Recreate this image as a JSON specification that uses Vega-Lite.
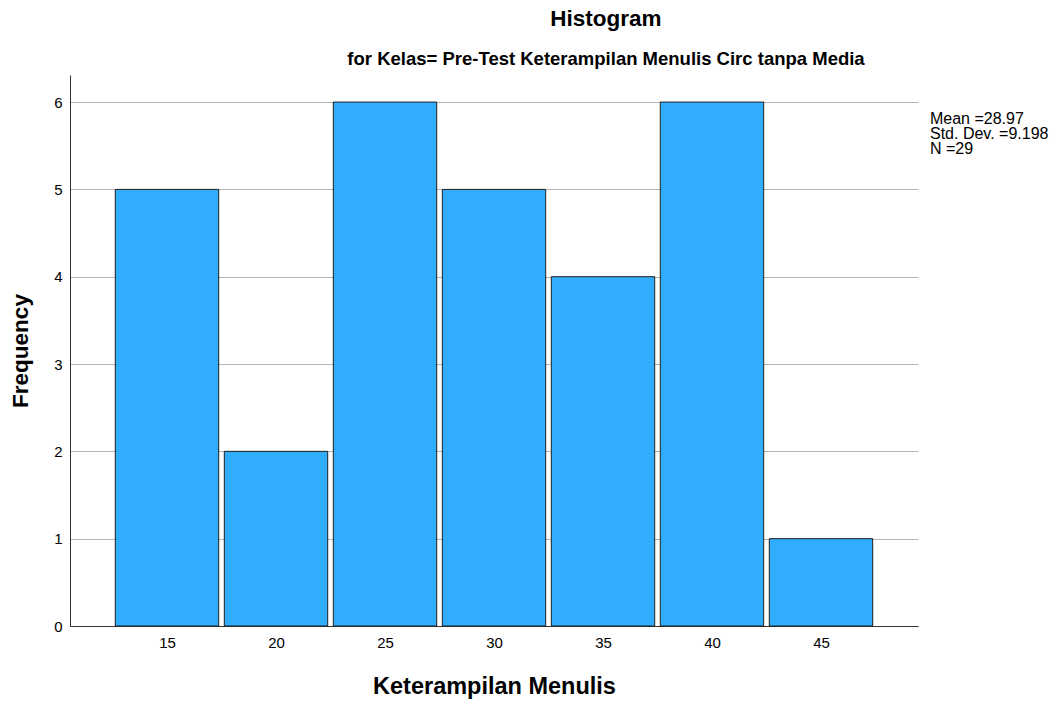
{
  "$schema": "https://vega.github.io/schema/vega-lite/v6.json",
  "width": 848,
  "height": 551,
  "autosize": {"type": "none"},
  "padding": {"left": 70, "top": 75, "right": 136, "bottom": 78},
  "background": "white",
  "config": {
    "view": {"stroke": null},
    "font": "Liberation Sans"
  },
  "title": {
    "text": "Histogram",
    "subtitle": "for Kelas= Pre-Test Keterampilan Menulis Circ tanpa Media",
    "anchor": "middle",
    "dx": 112,
    "fontSize": 22.5,
    "fontWeight": "bold",
    "color": "#000000",
    "subtitleFontSize": 18.5,
    "subtitleFontWeight": "bold",
    "subtitleColor": "#000000",
    "subtitlePadding": 19,
    "offset": 7,
    "font": "Liberation Sans",
    "subtitleFont": "Liberation Sans"
  },
  "data": {
    "values": [
      {"score": 15, "bin_start": 12.5, "bin_end": 17.5, "count": 5},
      {"score": 20, "bin_start": 17.5, "bin_end": 22.5, "count": 2},
      {"score": 25, "bin_start": 22.5, "bin_end": 27.5, "count": 6},
      {"score": 30, "bin_start": 27.5, "bin_end": 32.5, "count": 5},
      {"score": 35, "bin_start": 32.5, "bin_end": 37.5, "count": 4},
      {"score": 40, "bin_start": 37.5, "bin_end": 42.5, "count": 6},
      {"score": 45, "bin_start": 42.5, "bin_end": 47.5, "count": 1}
    ]
  },
  "layer": [
    {
      "mark": {"type": "bar", "fill": "#31adff", "stroke": "#1e1e1e", "strokeWidth": 1, "xOffset": 2.8, "x2Offset": -2.8},
      "encoding": {
        "x": {
          "field": "bin_start",
          "type": "quantitative",
          "scale": {"domain": [10.55, 49.45], "nice": false, "zero": false},
          "axis": {
            "values": [15, 20, 25, 30, 35, 40, 45],
            "format": "d",
            "title": "Keterampilan Menulis",
            "titleFontSize": 23.5,
            "titleFontWeight": "bold",
            "titleColor": "#000000",
            "titlePadding": 24,
            "labelFontSize": 15,
            "labelColor": "#000000",
            "labelPadding": 9,
            "ticks": false,
            "grid": false,
            "domainColor": "#333333",
            "domainWidth": 1
          }
        },
        "x2": {"field": "bin_end"},
        "y": {
          "field": "count",
          "type": "quantitative",
          "scale": {"domain": [0, 6.31], "nice": false},
          "axis": {
            "values": [0, 1, 2, 3, 4, 5, 6],
            "format": "d",
            "title": "Frequency",
            "titleFontSize": 22.5,
            "titleFontWeight": "bold",
            "titleColor": "#000000",
            "titlePadding": 21,
            "labelFontSize": 15,
            "labelColor": "#000000",
            "labelPadding": 8,
            "ticks": false,
            "grid": true,
            "gridColor": "#b4b4b4",
            "gridWidth": 1,
            "domainColor": "#333333",
            "domainWidth": 1,
            "zindex": 0
          }
        },
        "y2": {"datum": 0}
      }
    },
    {
      "data": {"values": [{"stat": "summary"}]},
      "mark": {
        "type": "text",
        "text": ["Mean =28.97", "Std. Dev. =9.198", "N =29"],
        "align": "left",
        "baseline": "top",
        "fontSize": 16,
        "lineHeight": 15,
        "color": "#000000",
        "clip": false
      },
      "encoding": {
        "x": {"datum": 50.0},
        "y": {"datum": 5.9}
      }
    }
  ]
}
